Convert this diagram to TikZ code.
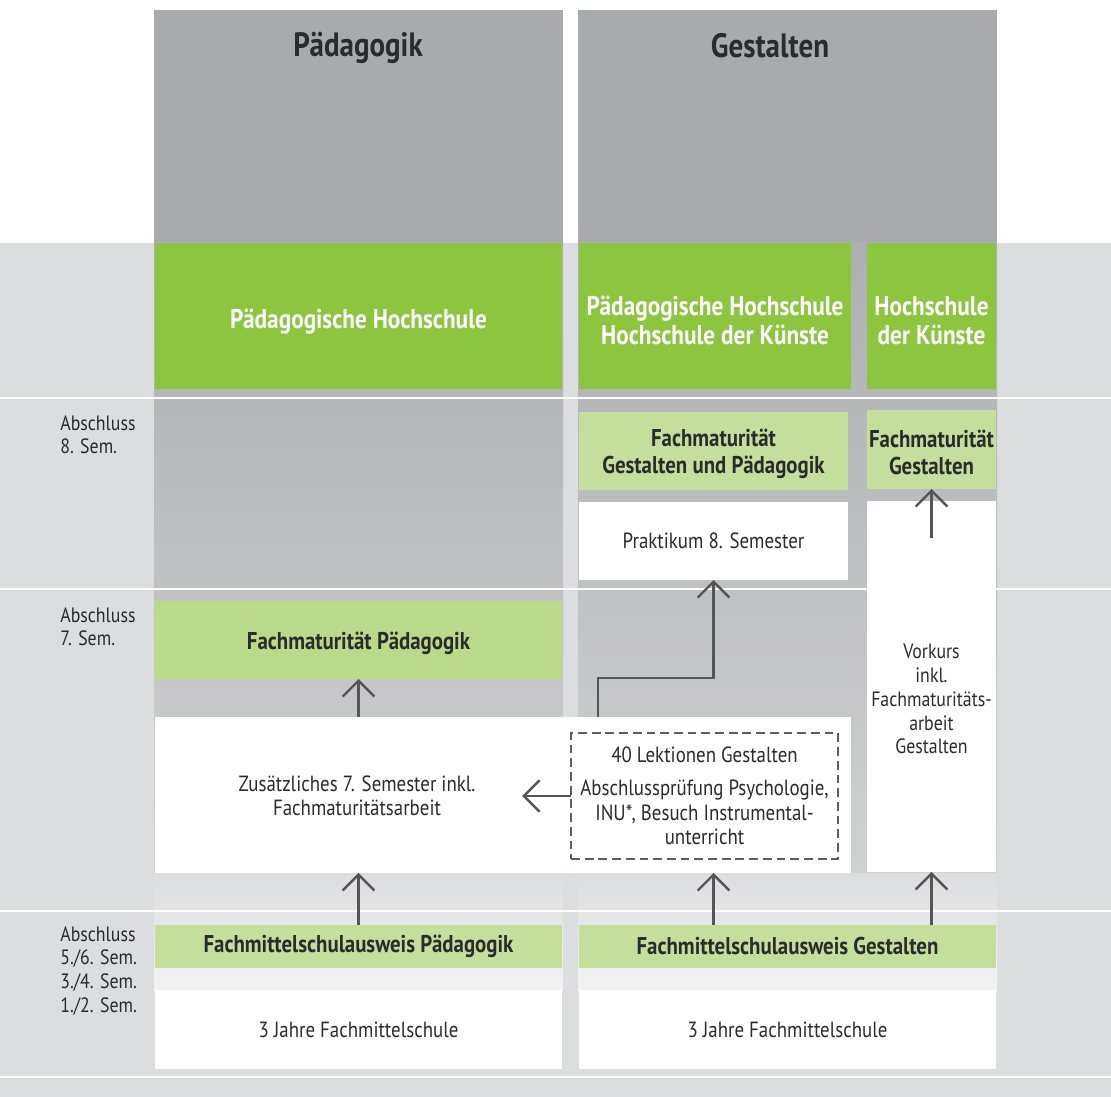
\documentclass[tikz,border=0pt]{standalone}
\usepackage{fontspec}
\setmainfont{PT Sans}[FakeStretch=0.86]
\usetikzlibrary{arrows.meta,calc}

\definecolor{bandgray}{HTML}{DCDDDF}
\definecolor{colgray}{HTML}{A9AAAD}
\definecolor{hsgreen}{HTML}{8CC63F}
\definecolor{fmgreen}{HTML}{C4DF9B}
\definecolor{fmgreenb}{HTML}{BAD98B}
\definecolor{arrowgray}{HTML}{555555}
\definecolor{textgray}{HTML}{2B2B2B}

% invisible strut that pushes the first line of a box down a little
\newcommand{\boxlift}[1]{\rule{0pt}{#1}}

\begin{document}
\begin{tikzpicture}[x=0.02cm,y=-0.02cm,font=\fontsize{12.5}{14}\selectfont,text=textgray]
% Styles for the boxes and the arrows
\tikzset{
box/.style={rectangle,inner sep=0,outer sep=0,align=center},
hs box/.style={box,fill=hsgreen,text=white,font=\fontsize{15.4}{16.6}\selectfont\bfseries},
fm box/.style={box,fill=fmgreen,font=\fontsize{13.8}{15}\selectfont\bfseries},
plain box/.style={box,fill=white},
up/.style={draw=arrowgray,line width=1.4pt,-{Straight Barb[length=9pt,width=18pt]}},
sem label/.style={anchor=north west,align=left,inner sep=0,font=\fontsize{11.8}{13.6}\selectfont}
}
\useasboundingbox (0,0) rectangle (1111,1097);

% Background bands and the two columns
\fill[bandgray] (0,243) rectangle (1111,1097);
\foreach \xa/\xb in {154/563,578/997}{
\fill[colgray] (\xa,10) rectangle (\xb,243);
\shade[top color=colgray!95!white,bottom color=colgray!55!white] (\xa,243) rectangle (\xb,873);
\shade[top color=colgray!40!white,bottom color=colgray!15!white] (\xa,873) rectangle (\xb,990);
}
\foreach \y in {398,589,911,1077}
\draw[white,line width=1.4pt] (0,\y) -- (1111,\y);

% Column titles
\node[box,font=\fontsize{19.2}{22}\selectfont\bfseries] (titleP) at (358,48) {Pädagogik};
\node[box,font=\fontsize{19.2}{22}\selectfont\bfseries] (titleG) at (770,46) {Gestalten};

% Hochschulen
\node[hs box,minimum width=8.14cm,minimum height=2.92cm] (hsP) at (358.5,316) {\boxlift{18pt}Pädagogische Hochschule};
\node[hs box,minimum width=5.44cm,minimum height=2.92cm] (hsPK) at (715,316) {\boxlift{16pt}Pädagogische Hochschule\\Hochschule der Künste};
\node[hs box,minimum width=2.58cm,minimum height=2.92cm] (hsK) at (931.5,316) {\boxlift{16pt}Hochschule\\der Künste};

% 8. Semester
\node[fm box,minimum width=5.38cm,minimum height=1.56cm] (fmGP) at (713.5,451) {\boxlift{13.3pt}Fachmaturität\\Gestalten und Pädagogik};
\node[fm box,minimum width=2.58cm,minimum height=1.58cm] (fmG) at (931.5,449.5) {\boxlift{13.3pt}Fachmaturität\\Gestalten};
\node[plain box,minimum width=5.38cm,minimum height=1.56cm] (prakt) at (713.5,541) {Praktikum 8. Semester};
\node[plain box,minimum width=2.58cm,minimum height=7.42cm] (vork) at (931.5,686.5) {};
\node[box,font=\fontsize{11.8}{13.6}\selectfont] (vorkText) at (931.5,699) {Vorkurs\\inkl.\\Fachmaturitäts-\\arbeit\\Gestalten};

% 7. Semester
\node[fm box,fill=fmgreenb,minimum width=8.14cm,minimum height=1.56cm] (fmP) at (358.5,640) {\boxlift{13.3pt}Fachmaturität Pädagogik};
\node[plain box,minimum width=13.92cm,minimum height=3.12cm] (zus) at (503,795) {};
\node[box] (zusText) at (357,796) {Zusätzliches 7. Semester inkl.\\Fachmaturitätsarbeit};
\node[box,draw=arrowgray!95!white,line width=1.3pt,dash pattern=on 5pt off 2.8pt,minimum width=5.34cm,minimum height=2.52cm] (dash) at (704.5,796)
{40 Lektionen Gestalten\\[5pt]Abschlussprüfung Psychologie,\\INU*, Besuch Instrumental-\\unterricht};

% Fachmittelschule
\node[fm box,minimum width=8.14cm,minimum height=0.86cm] (fmsP) at (358.5,946.5) {Fachmittelschulausweis Pädagogik};
\node[fm box,minimum width=8.34cm,minimum height=0.86cm] (fmsG) at (787.5,946.5) {Fachmittelschulausweis Gestalten};
\node[plain box,minimum width=8.14cm,minimum height=1.58cm] (fjP) at (358.5,1029.5) {3 Jahre Fachmittelschule};
\node[plain box,minimum width=8.34cm,minimum height=1.58cm] (fjG) at (787.5,1029.5) {3 Jahre Fachmittelschule};

% Semester labels
\node[sem label] (sem8) at (60,415) {Abschluss\\8. Sem.};
\node[sem label] (sem7) at (60,607) {Abschluss\\7. Sem.};
\node[sem label] (sem6) at (60,926) {Abschluss\\5./6. Sem.\\3./4. Sem.\\1./2. Sem.};

% Arrows
\draw[up] (fmP.south |- zus.north) -- (fmP.south);
\draw[up] (fmsP.north) -- (fmsP.north |- zus.south);
\draw[up] (prakt.south |- fmsG.north) -- (prakt.south |- zus.south);
\draw[up] (vork.south |- fmsG.north) -- (vork.south);
\draw[up] ($(vork.north)+(0,37)$) -- (fmG.south);
\coordinate (gStart) at (598,717);
\draw[up] (gStart) -- ++(0,-39) -| (prakt.south);
\draw[up] (dash.west) -- ++(-49,0);

\end{tikzpicture}
\end{document}
